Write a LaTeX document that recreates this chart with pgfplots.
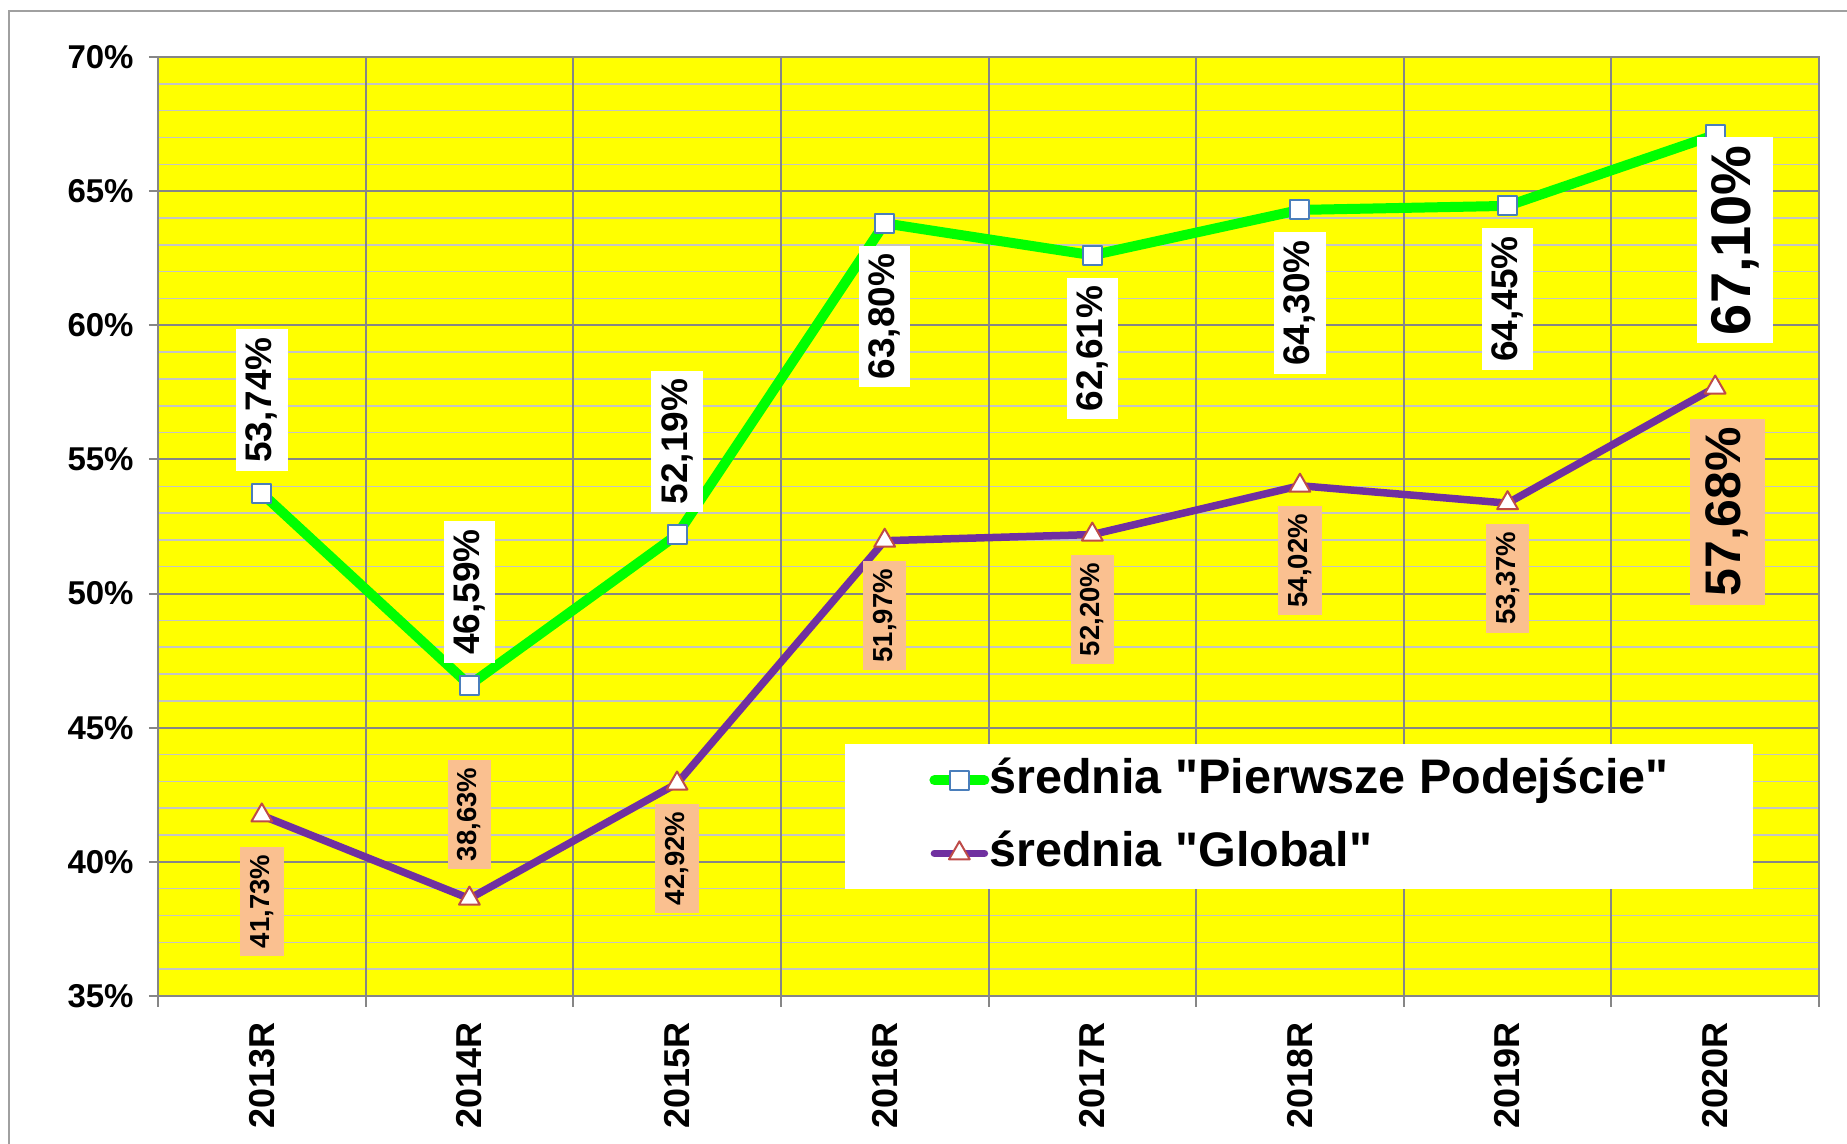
\documentclass[border=0pt]{standalone}
\usepackage{pgfplots}
\pgfplotsset{compat=1.18}
\usepackage{fontspec}
\setmainfont{Liberation Sans}[Ligatures=TeXOff]
\definecolor{plotyellow}{HTML}{FFFF00}
\definecolor{lgreen}{HTML}{00FF00}
\definecolor{lpurple}{HTML}{7030A0}
\definecolor{mblue}{HTML}{4A7EBB}
\definecolor{mred}{HTML}{BE4B48}
\definecolor{peach}{HTML}{FAC090}
\definecolor{gridmajor}{HTML}{868686}
\definecolor{gridminor}{HTML}{C4C4C4}
\definecolor{framegray}{HTML}{A0A0A0}
\pgfplotsset{
  lbl/.style={draw=none, mark=none, forget plot,
    nodes near coords={\pgfmathprintnumber[fixed,fixed zerofill,precision=2,use comma]{\pgfplotspointmeta}\%},
    every node near coord/.append style={text=black, inner xsep=4pt, inner ysep=5pt}},
  glbl/.style={lbl, every node near coord/.append style={fill=white, font=\fontsize{18.5}{18.5}\selectfont\bfseries}},
  plbl/.style={lbl, every node near coord/.append style={fill=peach, font=\fontsize{13.75}{13.75}\selectfont\bfseries}},
  above/.style={every node near coord/.append style={yshift=#1, rotate=90, anchor=west}},
  below/.style={every node near coord/.append style={yshift=-#1, rotate=90, anchor=east}},
}
\begin{document}
\begin{tikzpicture}
\begin{axis}[
  at={(0pt,0pt)}, anchor=south west,
  scale only axis, width=830.5pt, height=469.5pt,
  xmin=-0.5, xmax=7.5, ymin=35, ymax=70,
  clip=false,
  axis background/.style={fill=plotyellow},
  axis line style={draw=gridmajor, line width=1pt},
  tick pos=left,
  xtick={0,...,7},
  xticklabels={2013R,2014R,2015R,2016R,2017R,2018R,2019R,2020R},
  major x tick style={draw=none},
  extra x ticks={-0.5,0.5,1.5,2.5,3.5,4.5,5.5,6.5,7.5},
  extra x tick labels={},
  extra x tick style={grid=major, major x tick style={draw=gridmajor, line width=1pt}, major tick length=5.5pt},
  ytick={35,40,...,70},
  yticklabels={35\%,40\%,45\%,50\%,55\%,60\%,65\%,70\%},
  minor y tick num=4,
  ymajorgrids, yminorgrids,
  major grid style={draw=gridmajor, line width=1pt},
  minor grid style={draw=gridminor, line width=0.75pt},
  major y tick style={draw=gridmajor, line width=1pt},
  minor y tick style={draw=none},
  tick align=outside,
  major tick length=4.5pt,
  xticklabel style={rotate=90, anchor=east, inner sep=0pt, font=\fontsize{18}{18}\selectfont\bfseries},
  yticklabel style={anchor=east, inner sep=0pt, font=\fontsize{16.5}{16.5}\selectfont\bfseries},
  xticklabel shift=8.5pt, yticklabel shift=7.5pt,
  /pgf/number format/assume math mode=true,
  legend cell align=left,
  legend image code/.code={\draw[mark repeat=2, mark phase=2, line cap=round, #1] plot coordinates {(2.5pt,0pt) (15pt,0pt) (27.5pt,0pt)};},
  legend style={at={(0.4136,0.2684)}, anchor=north west, draw=none, fill=white,
    inner xsep=42pt, inner ysep=7pt, row sep=14.5pt,
    /tikz/every even column/.style={column sep=0pt},
    /tikz/every odd column/.style={column sep=0pt},
    font=\fontsize{24.25}{24.25}\selectfont\bfseries,
    nodes={inner sep=0pt, text height=17.5pt, text depth=4.5pt}},
]
\addplot[draw=lgreen, line width=5pt, line join=round, mark=square*, mark size=4.75pt,
  mark options={solid, fill=white, draw=mblue, line width=1pt}]
  coordinates {(0,53.74) (1,46.59) (2,52.19) (3,63.80) (4,62.61) (5,64.30) (6,64.45) (7,67.10)};
\addlegendentry{średnia "Pierwsze Podejście"}
\addplot[draw=lpurple, line width=3.75pt, line join=round, mark=triangle*, mark size=6pt,
  mark options={solid, fill=white, draw=mred, line width=1pt}]
  coordinates {(0,41.73) (1,38.63) (2,42.92) (3,51.97) (4,52.20) (5,54.02) (6,53.37) (7,57.68)};
\addlegendentry{średnia "Global"}
% green labels
\addplot[glbl, above=11pt] coordinates {(0,53.74) (1,46.59) (2,52.19)};
\addplot[glbl, below=11pt] coordinates {(3,63.80) (4,62.61) (5,64.30) (6,64.45)};
\addplot[glbl, every node near coord/.append style={font=\fontsize{28}{28}\selectfont\bfseries, inner ysep=7pt, xshift=10pt}, below=1pt] coordinates {(7,67.10)};
% purple labels
\addplot[plbl, below=15.5pt] coordinates {(0,41.73)};
\addplot[plbl, above=14.5pt] coordinates {(1,38.63)};
\addplot[plbl, below=10pt] coordinates {(2,42.92) (3,51.97) (4,52.20) (5,54.02) (6,53.37)};
\addplot[plbl, every node near coord/.append style={font=\fontsize{25}{25}\selectfont\bfseries, inner ysep=8pt, xshift=6pt}, below=15.5pt] coordinates {(7,57.68)};
\end{axis}
\draw[framegray, line width=0.75pt] (-74.5pt,-120pt) rectangle (900pt,492.5pt);
\pgfresetboundingbox
\path[use as bounding box] (-79pt,-74pt) rectangle (844.5pt,498pt);
\end{tikzpicture}
\end{document}
